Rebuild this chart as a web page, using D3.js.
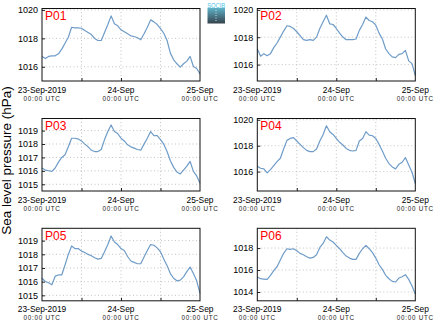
<!DOCTYPE html>
<html><head><meta charset="utf-8">
<script src="https://cdn.jsdelivr.net/npm/d3@7"></script>
<style>
body{margin:0;background:#fff}
svg{display:block}
text{font-family:"Liberation Sans",Arial,Helvetica,sans-serif}
</style>
</head><body>
<svg id="chart" width="434" height="327"></svg>
<script>
// ---- data (hours since 23-Sep-2019 00:00 UTC) ----
const hours = d3.range(0, 49);
const stations = ["P01", "P02", "P03", "P04", "P05", "P06"];
const p01 = [1016.73,1016.58,1016.73,1016.77,1016.77,1016.91,1017.24,1017.66,1018.08,1018.78,1018.74,1018.74,1018.71,1018.55,1018.41,1018.27,1017.99,1017.85,1017.85,1018.41,1018.97,1019.58,1019.02,1018.88,1018.6,1018.46,1018.32,1018.18,1018.13,1018.04,1017.9,1018.32,1018.78,1019.3,1019.16,1018.97,1018.69,1018.36,1017.85,1016.96,1016.49,1016.21,1015.98,1016.21,1016.4,1016.73,1016.02,1015.88,1015.5];
const p02 = [1017.16,1016.61,1016.8,1016.65,1016.8,1017.24,1017.58,1018.01,1018.45,1018.84,1018.79,1018.64,1018.4,1018.11,1017.82,1017.77,1017.82,1017.77,1018.01,1018.64,1019.13,1019.61,1018.98,1018.93,1018.64,1018.3,1018.01,1017.82,1017.82,1017.82,1017.87,1018.5,1018.93,1019.47,1019.22,1019.13,1018.88,1018.3,1017.87,1017.14,1016.8,1016.56,1016.51,1016.75,1016.8,1017.04,1016.27,1016.07,1015.2];
const p03 = [1016.21,1016.06,1016.01,1015.96,1016.21,1016.65,1017.0,1017.2,1017.79,1018.43,1018.43,1018.38,1018.23,1017.99,1017.79,1017.54,1017.44,1017.44,1017.59,1018.33,1018.93,1019.42,1018.93,1018.78,1018.43,1018.23,1017.94,1017.79,1017.69,1017.59,1017.54,1017.99,1018.43,1018.93,1018.63,1018.63,1018.33,1017.99,1017.44,1016.75,1016.26,1015.91,1015.77,1016.06,1016.36,1016.7,1015.96,1015.62,1015.07];
const p04 = [1016.41,1016.26,1016.21,1015.9,1016.15,1016.46,1016.77,1017.03,1017.74,1018.41,1018.56,1018.62,1018.36,1018.1,1017.85,1017.64,1017.54,1017.54,1017.74,1018.36,1018.87,1019.54,1019.08,1018.87,1018.56,1018.26,1018.05,1017.79,1017.64,1017.59,1017.64,1018.36,1018.56,1019.08,1018.82,1018.77,1018.56,1018.1,1017.59,1017.03,1016.62,1016.36,1016.21,1016.56,1016.72,1017.08,1016.51,1015.95,1015.08];
const p05 = [1016.25,1016.01,1015.92,1015.77,1016.4,1016.49,1016.49,1017.22,1017.99,1018.61,1018.42,1018.42,1018.23,1018.13,1017.99,1017.89,1017.75,1017.65,1017.7,1018.18,1018.71,1019.34,1018.9,1018.71,1018.42,1018.28,1017.84,1017.51,1017.41,1017.31,1017.31,1017.8,1018.28,1018.71,1018.66,1018.47,1018.18,1017.65,1017.17,1016.59,1016.25,1016.06,1016.11,1016.35,1016.73,1017.07,1016.59,1016.06,1015.14];
const p06 = [1015.36,1015.21,1015.18,1015.15,1015.52,1015.94,1016.3,1016.91,1017.52,1017.94,1017.88,1017.94,1017.76,1017.52,1017.39,1017.21,1017.09,1017.15,1017.39,1018.06,1018.42,1019.03,1018.73,1018.55,1018.24,1017.94,1017.58,1017.27,1017.09,1016.97,1016.97,1017.52,1017.94,1018.24,1017.94,1017.58,1017.09,1016.48,1016.06,1015.52,1015.21,1014.97,1014.91,1015.27,1015.39,1015.58,1015.15,1014.55,1013.82];
const seriesValues = [p01, p02, p03, p04, p05, p06];
const yDomains = [[1015.0,1020.1],[1014.8,1020.1],[1014.5,1019.9],[1014.5,1020.1],[1014.6,1019.9],[1013.2,1019.8]];
const yTickValues = [[1016,1018,1020],[1016,1018,1020],[1015,1016,1017,1018,1019],[1016,1018,1020],[1015,1016,1017,1018,1019],[1014,1016,1018]];
const xGridHours = [12, 24, 36];
const xLabelHours = [0, 24, 48];
const xTickLabels = ["23-Sep-2019", "24-Sep", "25-Sep"];
const xTickSubLabel = "00:00 UTC";
const yAxisTitle = "Sea level pressure (hPa)";

// ---- layout ----
const start = Date.UTC(2019, 8, 23, 0, 0);
const toDate = h => new Date(start + h * 3600e3);
const colX = [42, 257.3], panelW = 158;
const rowY = [8.5, 118.5, 228.3], panelH = 72.5;
const lineColor = "#6f9cc8";

const svg = d3.select("#chart");

// logo
const defs = svg.append("defs");
const grad = defs.append("linearGradient").attr("id","lg").attr("x1",0).attr("y1",0).attr("x2",0).attr("y2",1);
grad.append("stop").attr("offset","0%").attr("stop-color","#5fb2c8");
grad.append("stop").attr("offset","100%").attr("stop-color","#34414b");
const logo = svg.append("g");
logo.append("rect").attr("x",207.5).attr("y",8).attr("width",17.5).attr("height",15.5).attr("fill","url(#lg)");
logo.append("text").attr("x",216.2).attr("y",8.2).attr("text-anchor","middle")
  .attr("font-size",7).attr("fill","#49c3e0").attr("textLength",18).attr("lengthAdjust","spacingAndGlyphs").text("SOCIB");
logo.append("line").attr("x1",216).attr("x2",216).attr("y1",10).attr("y2",21)
  .attr("stroke","#e8f4f8").attr("stroke-width",0.8).attr("stroke-dasharray","1,1.5");

// y axis title
svg.append("text")
  .attr("transform", "translate(11,160.5) rotate(-90)")
  .attr("text-anchor","middle").attr("font-size",13.5).attr("fill","#000")
  .text(yAxisTitle);

stations.forEach((name, i) => {
  const col = i % 2, row = Math.floor(i / 2);
  const x0 = colX[col], y0 = rowY[row];
  const g = svg.append("g").attr("transform", `translate(${x0},${y0})`);
  const x = d3.scaleUtc().domain([toDate(0), toDate(48)]).range([0, panelW]);
  const y = d3.scaleLinear().domain(yDomains[i]).range([panelH, 0]);

  // grid
  g.selectAll(".vg").data(xGridHours).join("line")
    .attr("x1", h => x(toDate(h))).attr("x2", h => x(toDate(h)))
    .attr("y1", 0).attr("y2", panelH)
    .attr("stroke", "#b4b4b4").attr("stroke-width", 0.8).attr("stroke-dasharray", "1,2.5");
  g.selectAll(".hg").data(yTickValues[i]).join("line")
    .attr("x1", 0).attr("x2", panelW)
    .attr("y1", v => y(v)).attr("y2", v => y(v))
    .attr("stroke", "#b4b4b4").attr("stroke-width", 0.8).attr("stroke-dasharray", "1,2.5");

  // y axis
  const ya = g.append("g").call(d3.axisLeft(y).tickValues(yTickValues[i]).tickSizeInner(-3).tickSizeOuter(0).tickPadding(4).tickFormat(d3.format("d")));
  ya.select(".domain").remove();
  ya.selectAll("line").attr("stroke", "#222");
  ya.selectAll("text").attr("font-size", 9).attr("fill", "#000").attr("font-family", '"Liberation Sans",Arial,sans-serif');

  // x axis ticks (inside)
  const xa = g.append("g").attr("transform", `translate(0,${panelH})`)
    .call(d3.axisBottom(x).tickValues(xGridHours.map(toDate)).tickSizeInner(-3).tickSizeOuter(0).tickFormat(""));
  xa.select(".domain").remove();
  xa.selectAll("line").attr("stroke", "#222");

  // line
  const line = d3.line().x((d, k) => x(toDate(hours[k]))).y(d => y(d));
  g.append("path").datum(seriesValues[i])
    .attr("d", line).attr("fill", "none").attr("stroke", lineColor).attr("stroke-width", 1.2)
    .attr("stroke-linejoin", "round");

  // frame
  g.append("rect").attr("x", 0).attr("y", 0).attr("width", panelW).attr("height", panelH)
    .attr("fill", "none").attr("stroke", "#111").attr("stroke-width", 1);

  // station label
  g.append("text").attr("x", 3).attr("y", 11.8).attr("font-size", 12).attr("fill", "#ff0000").text(name);

  // x labels
  xLabelHours.forEach((h, k) => {
    g.append("text").attr("x", x(toDate(h))).attr("y", panelH + 11.5)
      .attr("text-anchor", "middle").attr("font-size", 8.4).attr("fill", "#000").text(xTickLabels[k]);
    g.append("text").attr("x", x(toDate(h))).attr("y", panelH + 19.7)
      .attr("text-anchor", "middle").attr("font-size", 6.3).attr("letter-spacing", 0.75).attr("fill", "#222").text(xTickSubLabel);
  });
});
</script>
</body></html>
